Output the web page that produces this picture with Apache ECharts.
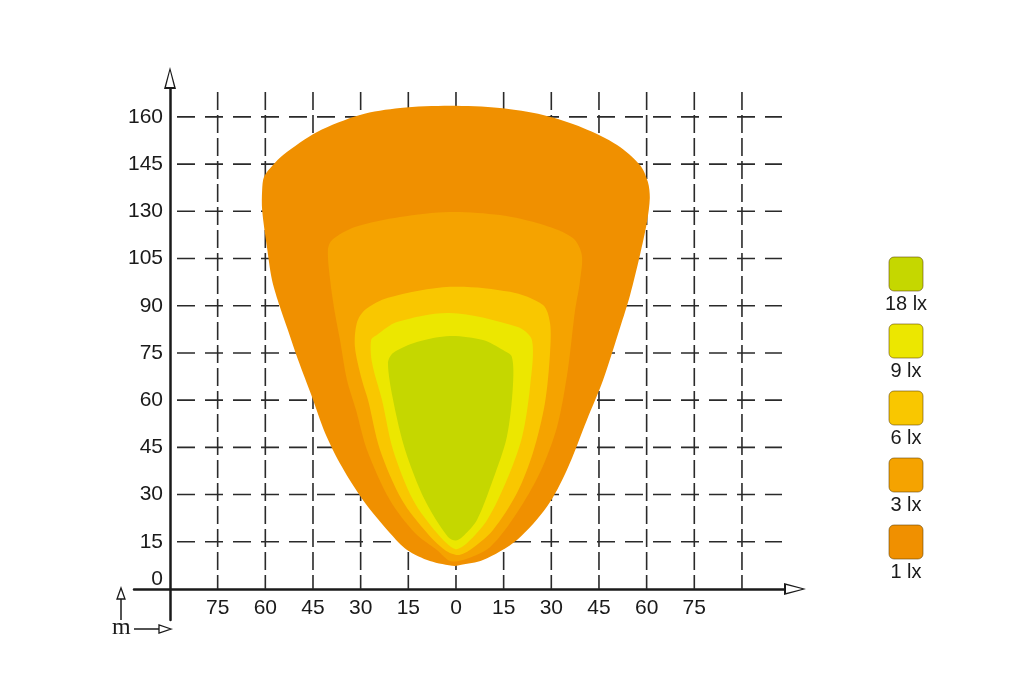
<!DOCTYPE html>
<html>
<head>
<meta charset="utf-8">
<script src="https://cdn.jsdelivr.net/npm/echarts@6/dist/echarts.min.js"></script>
<style>
  html, body { margin: 0; padding: 0; background: #fff; }
  #main { width: 1024px; height: 677px; }
</style>
</head>
<body>
<div id="main"></div>
<script>
// tick labels of the vertical axis (one per grid step of 15 m)
const yTickLabels = ['0', '15', '30', '45', '60', '75', '90', '105', '130', '145', '160'];
// positions of the dashed grid lines
const xGridTicks = [-75, -60, -45, -30, -15, 0, 15, 30, 45, 60, 75, 90];
const yGridTicks = [15, 30, 45, 60, 75, 90, 105, 120, 135, 150];

// isolux levels, drawn from outside in
const levels = ['1 lx', '3 lx', '6 lx', '9 lx', '18 lx'];
const levelColors = ['#f09000', '#f5a300', '#f9c700', '#ece700', '#c5d700'];

// contour outlines [x, y] in metres
const lx1 = [
  [-1.9, 153.5], [13.8, 152.8], [27.4, 150.6], [40.0, 146.5], [50.7, 141.1], [57.9, 134.7],
  [60.4, 129.3], [61.0, 124.2], [60.1, 116.6], [57.9, 106.1], [54.8, 93.4], [51.6, 82.9],
  [46.3, 66.4], [41.2, 53.7], [34.9, 37.8], [28.6, 26.1], [19.2, 15.6], [8.5, 9.2],
  [1.3, 7.6], [-0.3, 7.3], [-8.2, 8.9], [-15.4, 12.4], [-20.8, 17.8], [-29.3, 28.3],
  [-35.9, 38.8], [-41.2, 49.6], [-45.3, 61.0], [-49.7, 72.8], [-52.9, 82.3], [-55.4, 89.6],
  [-57.9, 98.2], [-59.5, 108.7], [-61.0, 120.4], [-61.0, 126.8], [-60.4, 131.0],
  [-57.6, 134.7], [-54.4, 137.9], [-43.7, 145.2], [-30.2, 150.6], [-17.6, 152.8]
];
const lx3 = [
  [-1.9, 119.8], [13.8, 118.8], [27.4, 115.7], [36.8, 111.5], [39.6, 106.1], [39.0, 97.6],
  [37.4, 88.0], [35.2, 69.6], [31.8, 51.5], [26.4, 36.9], [19.2, 24.2], [10.7, 13.3],
  [2.2, 9.2], [-1.9, 8.9], [-6.0, 12.4], [-12.9, 17.8], [-20.8, 28.3], [-28.0, 44.2],
  [-31.5, 57.0], [-34.3, 66.4], [-36.5, 79.1], [-38.1, 87.7], [-39.6, 98.2], [-40.3, 107.7],
  [-39.0, 110.9], [-31.8, 115.0], [-17.6, 118.2]
];
const lx6 = [
  [-1.9, 96.0], [17.0, 94.4], [27.4, 90.2], [29.6, 84.5], [29.6, 75.0], [28.0, 59.1],
  [24.2, 43.2], [19.2, 30.5], [11.6, 18.7], [4.4, 12.4], [0.6, 10.8], [-3.5, 12.4],
  [-9.1, 17.8], [-17.0, 28.3], [-23.9, 44.2], [-27.7, 60.1], [-29.6, 66.4], [-31.8, 76.9],
  [-31.2, 84.5], [-28.6, 88.7], [-21.4, 92.5]
];
const lx9 = [
  [-1.9, 87.7], [19.2, 83.3], [23.9, 79.1], [23.3, 64.2], [20.8, 48.3], [16.0, 34.6],
  [9.8, 21.9], [3.5, 14.6], [-0.3, 12.7], [-6.0, 17.8], [-13.5, 28.3], [-19.8, 44.2],
  [-23.3, 60.1], [-26.4, 71.8], [-26.7, 79.1], [-24.9, 80.7], [-18.6, 84.8]
];
const lx18 = [
  [-1.9, 80.4], [8.5, 79.1], [14.8, 75.9], [17.6, 73.7], [17.9, 64.2], [16.0, 48.3],
  [11.6, 34.6], [6.6, 21.9], [2.5, 17.0], [0.0, 15.4], [-2.5, 16.5], [-9.8, 28.3],
  [-16.0, 44.2], [-19.8, 60.1], [-21.4, 71.8], [-19.8, 75.0], [-12.3, 78.5]
];
const contours = [lx1, lx3, lx6, lx9, lx18];

const font = 'Liberation Sans, Arial, sans-serif';
const ink = '#1a1a1a';
const gridInk = '#2a2a2a';

// hollow arrow head (outer triangle minus inner one)
const hollowArrow = 'path://M0,0 L6,22 L-6,22 Z M0,4 L-4,20 L4,20 Z';

const chart = echarts.init(document.getElementById('main'));

// one custom series: dashed grid first, then the isolux patches on top of it
function renderPlot(params, api) {
  const cs = params.coordSys;
  const children = [];
  xGridTicks.forEach(v => {
    const p = api.coord([v, 0]);
    children.push({
      type: 'line', z2: 1,
      shape: { x1: p[0], y1: cs.y, x2: p[0], y2: p[1] },
      style: { stroke: gridInk, lineWidth: 1.6, lineDash: [18, 5] }
    });
  });
  yGridTicks.forEach(v => {
    const p = api.coord([-90, v]);
    children.push({
      type: 'line', z2: 1,
      shape: { x1: p[0] + 7, y1: p[1], x2: cs.x + cs.width, y2: p[1] },
      style: { stroke: gridInk, lineWidth: 1.6, lineDash: [18, 10] }
    });
  });
  contours.forEach((pts, i) => {
    children.push({
      type: 'polygon', z2: 10 + i,
      shape: { points: pts.map(p => api.coord(p)), smooth: 0.3 },
      style: { fill: levelColors[i] }
    });
  });
  return { type: 'group', children: children };
}

// legend boxes, top to bottom 18 lx .. 1 lx
const legendItems = [];
for (let k = 0; k < levels.length; k++) {
  const i = levels.length - 1 - k;
  legendItems.push({
    type: 'rect', x: 889, y: 257 + 67 * k,
    shape: { width: 34, height: 34, r: 5 },
    style: { fill: levelColors[i], stroke: 'rgba(90,60,0,0.55)', lineWidth: 1 }
  });
  legendItems.push({
    type: 'text', x: 906, y: 294 + 67 * k,
    style: { text: levels[i], font: '20px ' + font, fill: ink, textAlign: 'center', textVerticalAlign: 'top' }
  });
}

chart.setOption({
  animation: false,
  backgroundColor: '#fff',
  grid: [
    { left: 134, right: 240, top: 89, bottom: 57 },   // axis lines with arrows
    { left: 170, right: 242, top: 92, bottom: 88 }    // grid lines, labels, data
  ],
  xAxis: [
    {
      gridIndex: 0, type: 'value', min: -101.3, max: 103.2,
      axisLine: { onZero: true, symbol: ['none', hollowArrow], symbolSize: [12, 22], symbolOffset: [0, 11],
        lineStyle: { color: ink, width: 2.5 } },
      axisTick: { show: false }, axisLabel: { show: false }, splitLine: { show: false }
    },
    {
      gridIndex: 1, type: 'value', min: -90, max: 102.6, interval: 15,
      axisLine: { show: false }, axisTick: { show: false }, splitLine: { show: false },
      axisLabel: {
        margin: 9, color: ink, fontSize: 21, fontFamily: font,
        formatter: v => (Math.abs(v) <= 75 ? String(Math.abs(v)) : '')
      }
    }
  ],
  yAxis: [
    {
      gridIndex: 0, type: 'value', min: -9.85, max: 158.9, offset: -36,
      axisLine: { onZero: false, symbol: ['none', hollowArrow], symbolSize: [12, 22], symbolOffset: [0, 11],
        lineStyle: { color: ink, width: 2.5 } },
      axisTick: { show: false }, axisLabel: { show: false }, splitLine: { show: false }
    },
    {
      gridIndex: 1, type: 'value', min: 0, max: 157.9, interval: 15,
      axisLine: { show: false }, axisTick: { show: false }, splitLine: { show: false },
      axisLabel: {
        margin: 7, color: ink, fontSize: 21, fontFamily: font, showMaxLabel: false,
        formatter: v => {
          const idx = Math.round(v / 15);
          if (Math.abs(v - idx * 15) > 0.01 || idx >= yTickLabels.length) return '';
          return idx === 0 ? '{z|' + yTickLabels[0] + '}' : yTickLabels[idx];
        },
        rich: { z: { fontSize: 21, fontFamily: font, color: ink, padding: [0, 0, 20, 0] } }
      }
    }
  ],
  graphic: [
    // unit marker in the lower left corner
    { type: 'line', shape: { x1: 121, y1: 598, x2: 121, y2: 620 }, style: { stroke: ink, lineWidth: 1.5 } },
    { type: 'polygon', shape: { points: [[121, 588], [125, 599], [117, 599]] },
      style: { fill: '#fff', stroke: ink, lineWidth: 1.3 } },
    { type: 'text', x: 112, y: 616, style: { text: 'm', font: '24px Liberation Serif, serif', fill: ink } },
    { type: 'line', shape: { x1: 134, y1: 629, x2: 160, y2: 629 }, style: { stroke: ink, lineWidth: 1.5 } },
    { type: 'polygon', shape: { points: [[171, 629], [159, 625], [159, 633]] },
      style: { fill: '#fff', stroke: ink, lineWidth: 1.3 } }
  ].concat(legendItems),
  series: [{
    name: 'isolux',
    type: 'custom',
    xAxisIndex: 1,
    yAxisIndex: 1,
    silent: true,
    data: [[0, 0]],
    renderItem: renderPlot
  }]
});
</script>
</body>
</html>
